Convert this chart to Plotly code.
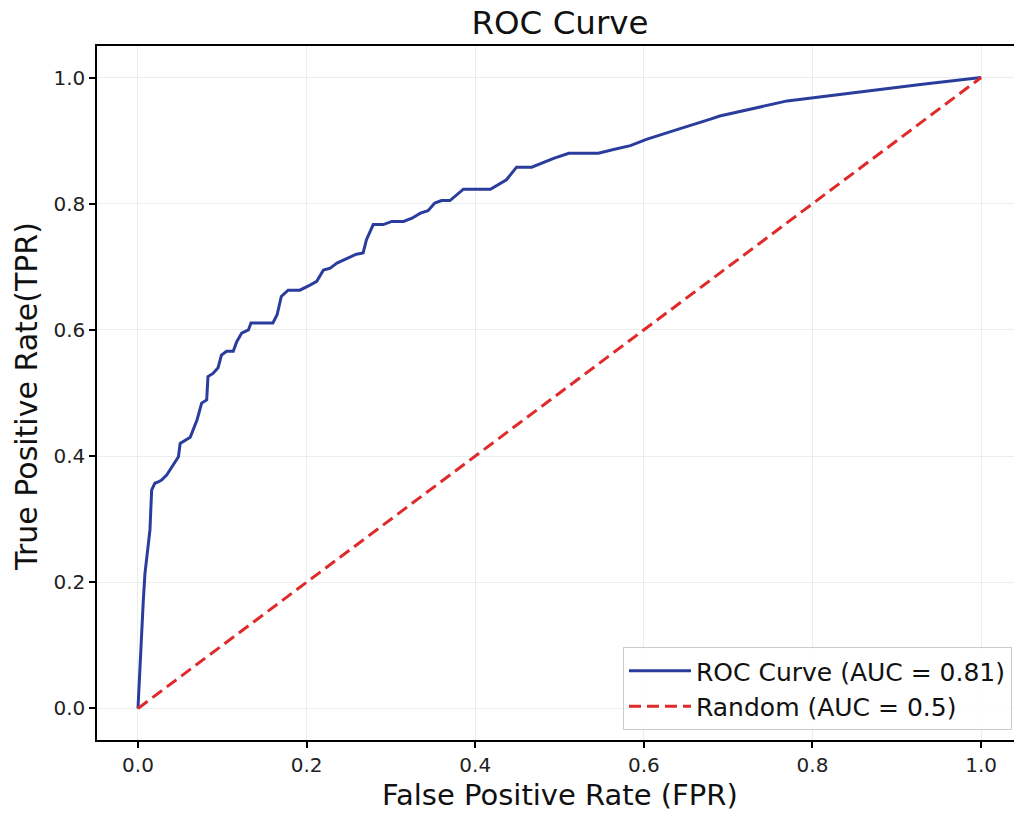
import plotly.graph_objects as go

# ROC curve values
fpr = [0.0, 0.001, 0.0024, 0.0044, 0.0063, 0.0083, 0.0122, 0.0142, 0.0162, 0.020,
       0.024, 0.028, 0.034, 0.042, 0.048, 0.050, 0.062, 0.070, 0.0755, 0.0815,
       0.083, 0.089, 0.095, 0.099, 0.105, 0.113, 0.117, 0.123, 0.131, 0.134,
       0.160, 0.165, 0.170, 0.178, 0.192, 0.204, 0.212, 0.220, 0.228, 0.236,
       0.248, 0.259, 0.267, 0.271, 0.279, 0.291, 0.301, 0.315, 0.325, 0.335,
       0.344, 0.352, 0.360, 0.370, 0.386, 0.418, 0.437, 0.449, 0.467, 0.493,
       0.511, 0.546, 0.564, 0.584, 0.603, 0.623, 0.643, 0.679, 0.690, 0.770,
       0.848, 0.928, 1.0]
tpr = [0.0, 0.03, 0.076, 0.124, 0.171, 0.214, 0.262, 0.283, 0.346, 0.357,
       0.359, 0.362, 0.370, 0.386, 0.399, 0.420, 0.430, 0.457, 0.484, 0.489,
       0.526, 0.531, 0.540, 0.560, 0.566, 0.566, 0.581, 0.595, 0.600, 0.611,
       0.611, 0.624, 0.653, 0.663, 0.663, 0.671, 0.677, 0.695, 0.698, 0.706,
       0.714, 0.720, 0.722, 0.743, 0.767, 0.767, 0.772, 0.772, 0.777, 0.785,
       0.789, 0.801, 0.805, 0.805, 0.823, 0.823, 0.838, 0.858, 0.858, 0.872,
       0.880, 0.880, 0.886, 0.892, 0.902, 0.911, 0.919, 0.934, 0.939, 0.963,
       0.976, 0.989, 1.0]
random_x = [0.0, 1.0]
random_y = [0.0, 1.0]
tick_vals = [0.0, 0.2, 0.4, 0.6, 0.8, 1.0]
roc_label = "ROC Curve (AUC = 0.81)"
rand_label = "Random (AUC = 0.5)"

FONT = "DejaVu Sans"

fig = go.Figure()
fig.add_trace(go.Scatter(x=fpr, y=tpr, mode="lines", name=roc_label,
                         line=dict(color="#2b3d9c", width=3)))
fig.add_trace(go.Scatter(x=random_x, y=random_y, mode="lines", name=rand_label,
                         line=dict(color="#e02a2a", width=3, dash="12px,6px")))

axis_common = dict(
    showline=True, linecolor="black", linewidth=1.5,
    ticks="outside", ticklen=6, tickwidth=1.5, tickcolor="black",
    tickvals=tick_vals, tickformat=".1f",
    tickfont=dict(family=FONT, size=20, color="#222"),
    showgrid=True, gridcolor="rgba(195,205,210,0.35)", gridwidth=1,
    zeroline=False,
)

fig.update_layout(
    width=1014, height=813,
    margin=dict(l=97, r=0, t=46, b=73),
    paper_bgcolor="white", plot_bgcolor="white",
    font=dict(family=FONT, color="#111"),
    title=dict(text="ROC Curve", font=dict(family=FONT, size=32.5, color="#111"),
               x=560 / 1014, xref="container", xanchor="center",
               y=1 - 23 / 813, yref="container", yanchor="middle"),
    xaxis=dict(range=[-0.0486, 1.039], mirror=True, **axis_common),
    yaxis=dict(range=[-0.05, 1.05], mirror=False, **axis_common),
    legend=dict(x=0.9978, y=0.1340, xanchor="right", yanchor="top",
                font=dict(family=FONT, size=25, color="#111"),
                bgcolor="rgba(255,255,255,0.85)", bordercolor="#cccccc",
                borderwidth=1, itemwidth=62, tracegroupgap=0),
    showlegend=True,
    annotations=[
        dict(text="False Positive Rate (FPR)", xref="paper", yref="paper",
             x=(560 - 97) / 917, y=(740 - 795) / 694, xanchor="center",
             yanchor="middle", showarrow=False,
             font=dict(family=FONT, size=29, color="#111")),
        dict(text="True Positive Rate(TPR)", xref="paper", yref="paper",
             x=(26 - 97) / 917, y=(740 - 397) / 694, xanchor="center",
             yanchor="middle", showarrow=False, textangle=-90,
             font=dict(family=FONT, size=30, color="#111")),
    ],
)

fig.write_html("out.html")
